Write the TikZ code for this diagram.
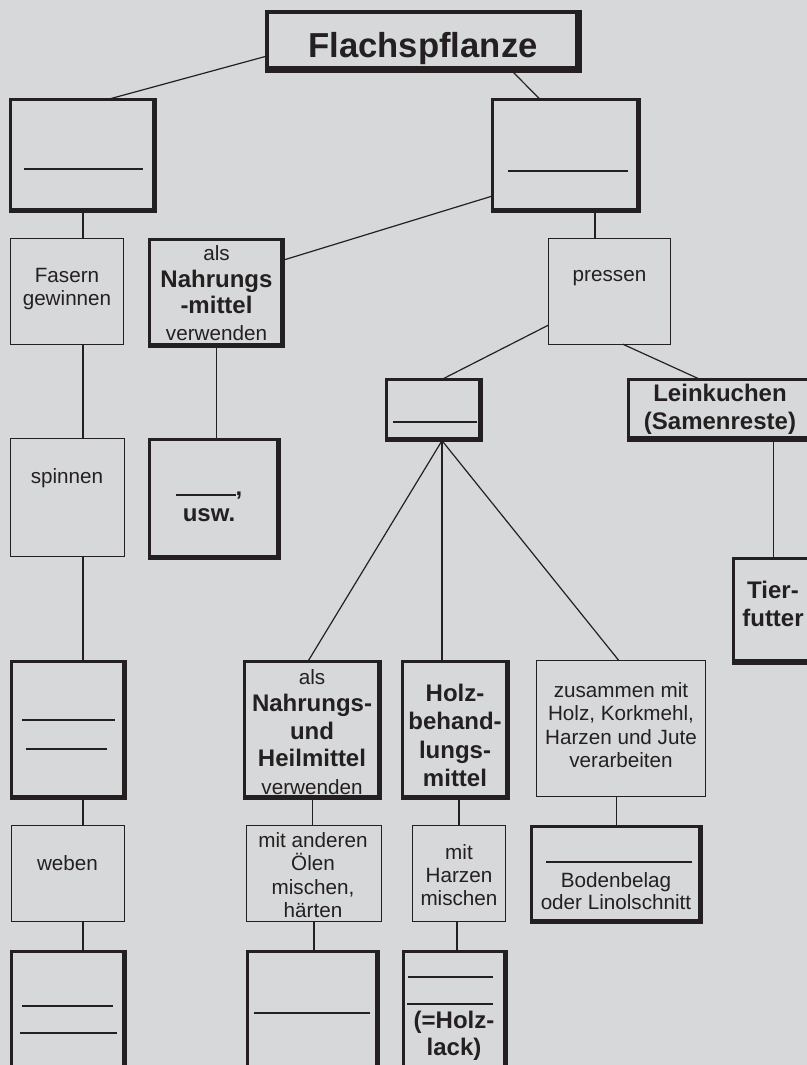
\documentclass[tikz,border=0pt]{standalone}
\usepackage{fontspec}
\setmainfont{Liberation Sans}
\definecolor{bg}{RGB}{215,216,217}
\definecolor{ink}{RGB}{36,32,34}
\newcommand\fsN{\fontsize{15.5}{17.5}\selectfont}
\newcommand\fsB{\fontsize{18}{21}\selectfont\bfseries}
\begin{document}
\begin{tikzpicture}[x=0.75pt,y=-0.75pt,
  box/.style={draw=ink, line width=1.1pt, inner sep=0pt, outer sep=0pt, rectangle},
  thinbox/.style 2 args={box, minimum width={#1*0.75pt-1.1pt}, minimum height={#2*0.75pt-1.1pt}},
  heavybox/.style 2 args={box, line width=2pt, minimum width={#1*0.75pt-2pt}, minimum height={#2*0.75pt-2pt},
    path picture={\draw[ink,line width=5pt] (path picture bounding box.north east) -- (path picture bounding box.south east) -- (path picture bounding box.south west);}},
  openbox/.style 2 args={inner sep=0pt, outer sep=0pt, rectangle, minimum width={#1*0.75pt-2pt}, minimum height={#2*0.75pt-2pt}},
  titlebox/.style 2 args={box, line width=3pt, minimum width={#1*0.75pt-3pt}, minimum height={#2*0.75pt-3pt},
    path picture={\draw[ink,line width=8pt] (path picture bounding box.north east) -- (path picture bounding box.south east) -- (path picture bounding box.south west);}},
  lbl/.style={inner sep=0pt, align=center, text=ink, font=\fsN},
  conn/.style={draw=ink, line width=0.9pt},
  blank/.style={draw=ink, line width=1.1pt},
  edge2/.style={draw=ink, line width=2pt},
  edge5/.style={draw=ink, line width=4.5pt}
]
\path[use as bounding box] (0,0) rectangle (807,1065);
\fill[bg] (-20,-20) rectangle (830,1090);

% boxes
\node[titlebox={317}{63}] (flachs) at (423.5,41.5) {};
\node[heavybox={148}{115}] (A) at (83,155.5) {};
\node[heavybox={150}{115}] (B) at (566,155.5) {};
\node[thinbox={114}{107}] (fasern) at (67,291.5) {};
\node[heavybox={137}{110}] (nahr) at (216.5,293) {};
\node[thinbox={123}{107}] (pressen) at (609.5,291.5) {};
\node[thinbox={115}{119}] (spinnen) at (67.5,497.5) {};
\node[heavybox={133}{122}] (usw) at (214.5,499) {};
\node[heavybox={98}{64}] (E) at (434,410) {};
\node[openbox={210}{64}] (lein) at (732,410) {};
\node[openbox={100}{108}] (tier) at (782,611) {};
\node[heavybox={117}{140}] (C) at (68.5,730) {};
\node[thinbox={114}{97}] (weben) at (68,873.5) {};
\node[heavybox={117}{130}] (D) at (68.5,1015) {};
\node[heavybox={139}{140}] (alsNH) at (312.5,730) {};
\node[heavybox={109}{140}] (holz) at (455.5,730) {};
\node[thinbox={170}{137}] (zus) at (621,728.5) {};
\node[thinbox={136}{97}] (mitand) at (314,873.5) {};
\node[thinbox={94}{97}] (harz) at (459,873.5) {};
\node[heavybox={173}{99}] (boden) at (616.5,874.5) {};
\node[heavybox={134}{130}] (G) at (313,1015) {};
\node[heavybox={106}{130}] (F) at (455,1015) {};

% boxes cut by the right edge of the sheet: drawn open on the right
\draw[edge2] (lein.north east) -- (lein.north west) -- (lein.south west) -- (lein.south east);
\draw[edge5] ([yshift=1.2pt]lein.south west) -- ([yshift=1.2pt]lein.south east);
\draw[edge2] (tier.north east) -- (tier.north west) -- (tier.south west) -- (tier.south east);
\draw[edge5] ([yshift=1.2pt]tier.south west) -- ([yshift=1.2pt]tier.south east);

% texts
\node[lbl, font=\fontsize{26}{30}\selectfont\bfseries] (t-flachs) at (423,49) {Flachspflanze};
\node[lbl] (t-fasern) at (67,289) {Fasern\\gewinnen};
\node[lbl, font=\fontsize{15.5}{20}\selectfont] (t-nahr) at (216.5,293) {als\\{\fsB Nahrungs}\\{\fsB -mittel}\\verwenden};
\node[lbl] (t-pressen) at (609.5,278) {pressen};
\node[lbl] (t-spinnen) at (67,478) {spinnen};
\node[lbl, font=\fontsize{18}{19.5}\selectfont\bfseries] (t-usw) at (209,507) {\rule{45pt}{1.1pt},\\usw.};
\node[lbl, font=\fsB] (t-lein) at (720,409) {Leinkuchen\\(Samenreste)};
\node[lbl, font=\fontsize{18}{21}\selectfont\bfseries] (t-tier) at (773,604) {Tier-\\futter};
\node[lbl] (t-weben) at (67.5,863) {weben};
\node[lbl, font=\fontsize{15.5}{20.6}\selectfont] (t-alsNH) at (312,732) {als\\{\fsB Nahrungs-}\\{\fsB und}\\{\fsB Heilmittel}\\verwenden};
\node[lbl] (t-mitand) at (313,875) {mit anderen\\Ölen\\mischen,\\härten};
\node[lbl, font=\fontsize{18}{21.4}\selectfont\bfseries] (t-holz) at (455,735.5) {Holz-\\behand-\\lungs-\\mittel};
\node[lbl] (t-harz) at (459,875) {mit\\Harzen\\mischen};
\node[lbl, font=\fontsize{18}{20.25}\selectfont\bfseries] (t-F) at (454,1036) {(=Holz-\\lack)};
\node[lbl] (t-zus) at (621,725) {zusammen mit\\Holz, Korkmehl,\\Harzen und Jute\\verarbeiten};
\node[lbl, font=\fontsize{15.5}{16.5}\selectfont] (t-boden) at (616,891) {Bodenbelag\\oder Linolschnitt};

% blank lines to fill in
\draw[blank] (24,169) -- (143,169);
\draw[blank] (508,171) -- (628,171);
\draw[blank] (393,422) -- (477,422);
\draw[blank] (22,720) -- (115,720);
\draw[blank] (26,749) -- (107,749);
\draw[blank] (22,1006) -- (113,1006);
\draw[blank] (20,1033) -- (117,1033);
\draw[blank] (254,1013) -- (370,1013);
\draw[blank] (408,977) -- (493,977);
\draw[blank] (407,1004) -- (493,1004);
\draw[blank] (546,862) -- (692,862);

% connectors
\draw[conn] ([yshift=-10.9pt]flachs.west) -- ([xshift=18.75pt]A.north);
\draw[conn] ([xshift=66.4pt]flachs.south) -- ([xshift=-19.5pt]B.north);
\coordinate (bp) at ([xshift=21.75pt]B.south);
\draw[conn] (bp) -- (bp |- pressen.north);
\draw[conn] ([yshift=-30.4pt]B.west) -- ([yshift=24.75pt]nahr.east);
\draw[conn] (A.south) -- (A.south |- fasern.north);
\draw[conn] (fasern.south -| A.south) -- (spinnen.north -| A.south);
\draw[conn] (spinnen.south -| A.south) -- (C.north -| A.south);
\draw[conn] (C.south -| A.south) -- (weben.north -| A.south);
\draw[conn] (weben.south -| A.south) -- (D.north -| A.south);
\draw[conn] (nahr.south) -- (nahr.south |- usw.north);
\draw[conn] ([yshift=-25.1pt]pressen.west) -- ([xshift=6pt]E.north);
\draw[conn] ([xshift=10.1pt]pressen.south) -- ([xshift=-24pt]lein.north);
\coordinate (lt) at ([xshift=31pt]lein.south);
\draw[conn] (lt) -- (lt |- tier.north);
\coordinate (es) at ([xshift=6pt]E.south);
\draw[conn] (es) -- ([xshift=-3.4pt]alsNH.north);
\draw[conn] (es) -- (es |- holz.north);
\draw[conn] (es) -- ([xshift=-1.5pt]zus.north);
\draw[conn] (alsNH.south) -- (alsNH.south |- mitand.north);
\draw[conn] (mitand.south) -- (mitand.south |- G.north);
\draw[conn] (harz.north |- holz.south) -- (harz.north);
\draw[conn] ([xshift=-1.5pt]harz.south) -- ([xshift=-1.5pt]harz.south |- F.north);
\draw[conn] (boden.north |- zus.south) -- (boden.north);
\end{tikzpicture}
\end{document}
